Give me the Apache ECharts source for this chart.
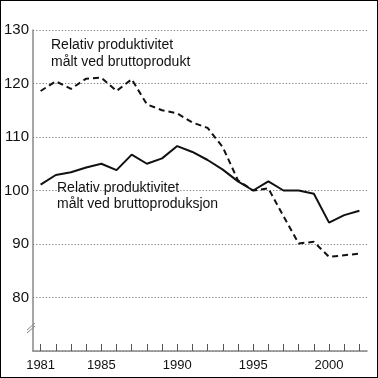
<!DOCTYPE html>
<html>
<head>
<meta charset="utf-8">
<script src="https://cdn.jsdelivr.net/npm/echarts@6/dist/echarts.min.js"></script>
<style>
  html, body { margin: 0; padding: 0; background: #fff; }
  #chart { width: 378px; height: 378px; box-sizing: border-box; border: 1px solid #000; }
</style>
</head>
<body>
<div id="chart"></div>
<script>
  // årstall
  var years = ['1981', '1982', '1983', '1984', '1985', '1986', '1987', '1988', '1989', '1990', '1991',
    '1992', '1993', '1994', '1995', '1996', '1997', '1998', '1999', '2000', '2001', '2002'];
  var shownYears = ['1981', '1985', '1990', '1995', '2000'];
  // relativ produktivitet målt ved bruttoprodukt (stiplet)
  var bruttoprodukt = [118.6, 120.4, 119.0, 120.9, 121.1, 118.6, 120.8, 116.1, 115.0, 114.4, 112.7,
    111.7, 108.1, 101.9, 100.0, 100.4, 95.2, 90.1, 90.4, 87.6, 87.9, 88.2];
  // relativ produktivitet målt ved bruttoproduksjon (heltrukket)
  var bruttoproduksjon = [101.1, 102.9, 103.4, 104.3, 105.0, 103.8, 106.7, 105.0, 106.0, 108.3, 107.2,
    105.7, 103.9, 101.7, 100.0, 101.7, 100.0, 100.0, 99.4, 94.0, 95.4, 96.2];
  var yTicks = [80, 90, 100, 110, 120, 130];

  var chart = echarts.init(document.getElementById('chart'));
  var option = {
    animation: false,
    backgroundColor: '#fff',
    grid: { left: 30, right: 10, top: 29, bottom: 26 },
    xAxis: {
      type: 'category',
      data: years,
      boundaryGap: true,
      axisLine: { lineStyle: { color: '#888', width: 1.5 } },
      axisTick: { show: true, inside: true, alignWithLabel: true, length: 7, interval: 0, lineStyle: { color: '#555', width: 1 } },
      axisLabel: {
        interval: function (i, v) { return shownYears.indexOf(v) >= 0; },
        color: '#111', fontSize: 13, fontFamily: 'Liberation Sans', margin: 8
      }
    },
    yAxis: {
      type: 'value',
      min: 70, max: 130, interval: 10,
      axisLine: { show: true, lineStyle: { color: '#888', width: 1.5 } },
      axisTick: { show: false },
      axisLabel: {
        color: '#111', fontSize: 15, fontFamily: 'Liberation Sans', margin: 4,
        formatter: function (v) { return yTicks.indexOf(v) >= 0 ? v : ''; }
      },
      splitLine: {
        show: true,
        lineStyle: { color: '#777', type: [1.2, 2], width: 1.2 }
      }
    },
    series: [{
      name: 'Relativ produktivitet målt ved bruttoprodukt',
      type: 'line',
      data: bruttoprodukt,
      symbol: 'none',
      lineStyle: { color: '#111', width: 2, type: [6, 4] }
    }, {
      name: 'Relativ produktivitet målt ved bruttoproduksjon',
      type: 'line',
      data: bruttoproduksjon,
      symbol: 'none',
      lineStyle: { color: '#111', width: 2 }
    }],
    graphic: [{
      type: 'text', left: 50, top: 36,
      style: { text: 'Relativ produktivitet\nmålt ved bruttoprodukt', fill: '#111', font: '14px Liberation Sans', lineHeight: 17 }
    }, {
      type: 'text', left: 56, top: 179,
      style: { text: 'Relativ produktivitet\nmålt ved bruttoproduksjon', fill: '#111', font: '14px Liberation Sans', lineHeight: 16 }
    }, {
      // bruddmarkering på y-aksen
      type: 'line', shape: { x1: 26, y1: 329, x2: 34, y2: 322 }, style: { stroke: '#888', lineWidth: 1 }
    }, {
      type: 'line', shape: { x1: 26, y1: 332, x2: 34, y2: 325 }, style: { stroke: '#888', lineWidth: 1 }
    }]
  };
  chart.setOption(option);
</script>
</body>
</html>
